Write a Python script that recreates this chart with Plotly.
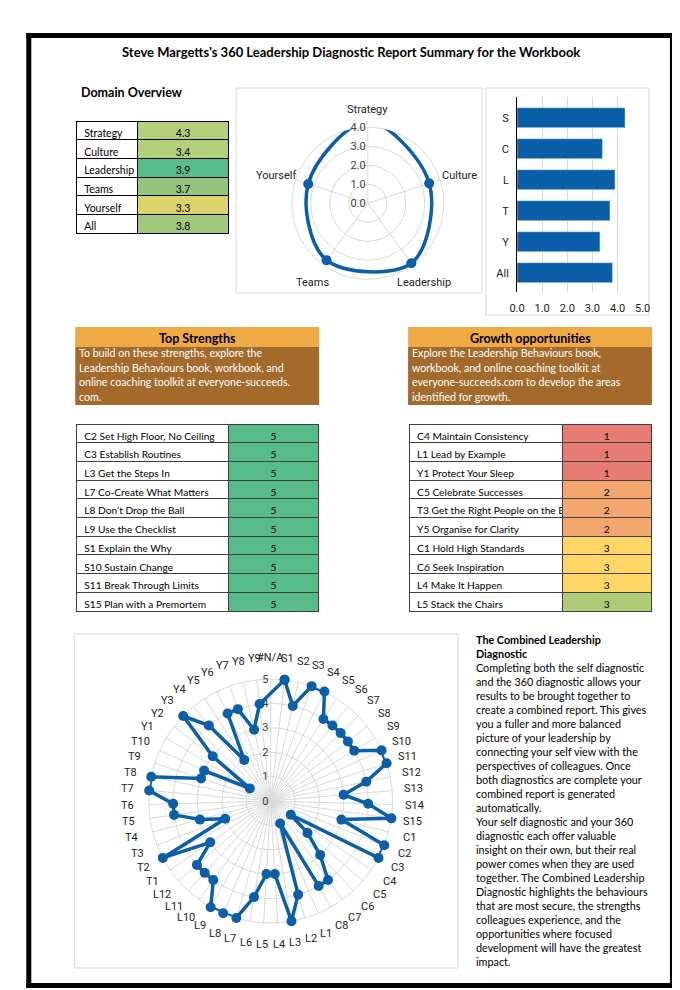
import math
import plotly.graph_objects as go

W, H = 680, 990
# the page is shown slightly squeezed horizontally; map reference pixels to figure pixels
OX, SX = 6.7, 0.977


def fx(x):
    return min(1.0, max(0.0, ((x - OX) / SX) / W))


def fy(y):
    return 1 - y / H


# ---------------- data ----------------
title_text = "Steve Margetts's 360 Leadership Diagnostic Report Summary for the Workbook"

domain_names = ["Strategy", "Culture", "Leadership", "Teams", "Yourself", "All"]
domain_values = [4.3, 3.4, 3.9, 3.7, 3.3, 3.8]
domain_colors = ["#b3cf79", "#b3cf79", "#57bb8a", "#93c57e", "#ddd36c", "#a1c87b"]

radar_names = ["Strategy", "Culture", "Leadership", "Teams", "Yourself"]
radar_values = [4.3, 3.4, 3.9, 3.7, 3.3]
radar_ticks = [0, 1, 2, 3, 4]
radar_ticktext = ["0.0", "1.0", "2.0", "3.0", "4.0"]

bar_labels = ["S", "C", "L", "T", "Y", "All"]
bar_values = [4.3, 3.4, 3.9, 3.7, 3.3, 3.8]
bar_ticks = [0, 1, 2, 3, 4, 5]
bar_ticktext = ["0.0", "1.0", "2.0", "3.0", "4.0", "5.0"]

strength_items = ["C2 Set High Floor, No Ceiling", "C3 Establish Routines", "L3 Get the Steps In",
                  "L7 Co-Create What Matters", "L8 Don\u2019t Drop the Ball", "L9 Use the Checklist",
                  "S1 Explain the Why", "S10 Sustain Change", "S11 Break Through Limits",
                  "S15 Plan with a Premortem"]
strength_scores = [5, 5, 5, 5, 5, 5, 5, 5, 5, 5]
strength_colors = ["#57bb8a"] * 10

growth_items = ["C4 Maintain Consistency", "L1 Lead by Example", "Y1 Protect Your Sleep",
                "C5 Celebrate Successes", "T3 Get the Right People on the Bus", "Y5 Organise for Clarity",
                "C1 Hold High Standards", "C6 Seek Inspiration", "L4 Make It Happen",
                "L5 Stack the Chairs"]
growth_scores = [1, 1, 1, 2, 2, 2, 3, 3, 3, 3]
growth_colors = ["#e67c73", "#e67c73", "#e67c73", "#f3a76f", "#f3a76f", "#f3a76f",
                 "#ffd666", "#ffd666", "#ffd666", "#aecb77"]

strength_note = ["To build on these strengths, explore the", "Leadership Behaviours book, workbook, and",
                 "online coaching toolkit at everyone-succeeds.", "com."]
growth_note = ["Explore the Leadership Behaviours book,", "workbook, and online coaching toolkit at",
               "everyone-succeeds.com to develop the areas", "identified for growth."]

behaviour_codes = ["#N/A",
                   "S1", "S2", "S3", "S4", "S5", "S6", "S7", "S8", "S9", "S10", "S11", "S12", "S13", "S14", "S15",
                   "C1", "C2", "C3", "C4", "C5", "C6", "C7", "C8",
                   "L1", "L2", "L3", "L4", "L5", "L6", "L7", "L8", "L9", "L10", "L11", "L12",
                   "T1", "T2", "T3", "T4", "T5", "T6", "T7", "T8", "T9", "T10",
                   "Y1", "Y2", "Y3", "Y4", "Y5", "Y6", "Y7", "Y8", "Y9"]
behaviour_scores = [None,
                    5, 4, 5, 5, 4, 4, 4, 4, 4, 5, 5, 4, 3, 4, 5,
                    3, 5, 5, 1, 2, 3, 4, 4,
                    1, 4, 5, 3, 3, 4, 5, 5, 5, 4, 4, 4,
                    3, 5, 2, 3, 4, 4, 5, 5, 3, 3,
                    1, 3, 5, 4, 2, 4, 4, 3, 4]
big_ticks = [0, 1, 2, 3, 4, 5]

combined_title = ["The Combined Leadership", "Diagnostic"]
combined_text = ["Completing both the self diagnostic", "and the 360 diagnostic allows your",
                 "results to be brought together to", "create a combined report. This gives",
                 "you a fuller and more balanced", "picture of your leadership by",
                 "connecting your self view with the", "perspectives of colleagues. Once",
                 "both diagnostics are complete your", "combined report is generated",
                 "automatically.", "Your self diagnostic and your 360", "diagnostic each offer valuable",
                 "insight on their own, but their real", "power comes when they are used",
                 "together. The Combined Leadership", "Diagnostic highlights the behaviours",
                 "that are most secure, the strengths", "colleagues experience, and the",
                 "opportunities where focused", "development will have the greatest", "impact."]

# ---------------- style ----------------
BLUE = "#0b5ea8"
GRID = "#d9d9d9"
CAL = "Lato"
CHART = "Roboto"
ORANGE = "#f0aa45"
BROWN = "#a36a2b"

SMALL_C, SMALL_R = (366.7, 203.3), 76
BIG_C, BIG_R = (269.5, 801), 122


def nb(s):
    return s.replace(" ", "\u00a0")


fig = go.Figure()

# small radar
fig.add_trace(go.Scatterpolar(
    r=radar_values + radar_values[:1], theta=radar_names + radar_names[:1],
    mode="lines+markers", subplot="polar", cliponaxis=False, hoverinfo="skip",
    line=dict(color=BLUE, width=3.5, shape="spline", smoothing=1.0),
    marker=dict(size=10, color=BLUE)))

# bar chart
fig.add_trace(go.Bar(x=bar_values, y=bar_labels, orientation="h", marker_color=BLUE,
                     width=0.645, xaxis="x", yaxis="y", hoverinfo="skip"))

# big radar
fig.add_trace(go.Scatterpolar(
    r=behaviour_scores + [behaviour_scores[1]], theta=behaviour_codes + [behaviour_codes[1]],
    mode="lines+markers", subplot="polar2", connectgaps=True, cliponaxis=False, hoverinfo="skip",
    line=dict(color=BLUE, width=3.5), marker=dict(size=10, color=BLUE)))

ROW = 18.7
dom_font = dict(family=CAL, size=10.5, color="#000")
cell_font = dict(family=CAL, size=10.2, color="#000")

# domain table
fig.add_trace(go.Table(
    domain=dict(x=[fx(75), fx(228)], y=[fy(250), fy(121)]),
    columnwidth=[62, 91],
    header=dict(values=[nb(domain_names[0]), "%.1f" % domain_values[0]],
                fill_color=["#ffffff", domain_colors[0]], line=dict(color="#000", width=1),
                align=["left", "center"], height=ROW, font=dom_font),
    cells=dict(values=[[nb(s) for s in domain_names[1:]], ["%.1f" % v for v in domain_values[1:]]],
               fill_color=[["#ffffff"] * 5, domain_colors[1:]], line=dict(color="#000", width=1),
               align=["left", "center"], height=ROW, font=dom_font)))

# strengths table
fig.add_trace(go.Table(
    domain=dict(x=[fx(75), fx(318)], y=[fy(630), fy(424)]),
    columnwidth=[153, 90],
    header=dict(values=[nb(strength_items[0]), str(strength_scores[0])],
                fill_color=["#ffffff", strength_colors[0]], line=dict(color="#404040", width=1),
                align=["left", "center"], height=ROW, font=cell_font),
    cells=dict(values=[[nb(s) for s in strength_items[1:]], [str(v) for v in strength_scores[1:]]],
               fill_color=[["#ffffff"] * 9, strength_colors[1:]], line=dict(color="#404040", width=1),
               align=["left", "center"], height=ROW, font=cell_font)))

# growth table
fig.add_trace(go.Table(
    domain=dict(x=[fx(408), fx(651)], y=[fy(630), fy(424)]),
    columnwidth=[154, 89],
    header=dict(values=[nb(growth_items[0]), str(growth_scores[0])],
                fill_color=["#ffffff", growth_colors[0]], line=dict(color="#404040", width=1),
                align=["left", "center"], height=ROW, font=cell_font),
    cells=dict(values=[[nb(s) for s in growth_items[1:]], [str(v) for v in growth_scores[1:]]],
               fill_color=[["#ffffff"] * 9, growth_colors[1:]], line=dict(color="#404040", width=1),
               align=["left", "center"], height=ROW, font=cell_font)))

shapes = []


def rect(x0, y0, x1, y1, fill=None, line=None, lw=1):
    shapes.append(dict(type="rect", xref="paper", yref="paper",
                       x0=fx(x0), x1=fx(x1), y0=fy(y1), y1=fy(y0),
                       fillcolor=fill if fill else "rgba(0,0,0,0)",
                       line=dict(color=line if line else "rgba(0,0,0,0)", width=lw if line else 0),
                       layer="below"))


# page frame
rect(25, 33, 690, 38, fill="#000")
rect(25, 33, 30, 988, fill="#000")
rect(25, 983, 690, 988, fill="#000")
rect(669, 33, 690, 988, fill="#000")
# chart boxes
rect(235, 88, 481, 293, line=GRID)
rect(485, 88, 648, 315, line=GRID)
rect(73, 634, 457, 968, line=GRID)
# note boxes
rect(74, 327, 318, 347, fill=ORANGE)
rect(74, 347, 318, 405, fill=BROWN)
rect(407, 327, 651, 347, fill=ORANGE)
rect(407, 347, 651, 405, fill=BROWN)

ann = []


def text(t, x, y, size, color="#000", xanchor="left", bold=False, family=CAL):
    ann.append(dict(text=("<b>%s</b>" % t) if bold else t, x=fx(x), y=fy(y), xref="paper", yref="paper",
                    showarrow=False, font=dict(family=family, size=size, color=color),
                    xanchor=xanchor, yanchor="middle", align="left"))


text(title_text, 350, 52, 13, xanchor="center", bold=True)
text("Domain Overview", 78, 92, 12.5, bold=True)
text("Top Strengths", 196, 338, 12.5, xanchor="center", bold=True)
text("Growth opportunities", 529, 338, 12.5, xanchor="center", bold=True)
for i, line in enumerate(strength_note):
    text(line, 76, 353 + i * 14.6, 10.6, color="#fff")
for i, line in enumerate(growth_note):
    text(line, 409, 353 + i * 14.6, 10.6, color="#fff")
for i, line in enumerate(combined_title + combined_text):
    text(line, 473, 639.3 + i * 14.02, 10.8, bold=(i < 2))

# category labels of the small radar, placed the way the spreadsheet chart places them
small_label_pos = [(366.7, 109), (458.5, 175), (422.8, 282.5), (311, 282.5), (275.8, 175)]
for name, (lx, ly) in zip(radar_names, small_label_pos):
    text(name, lx, ly, 11, color="#222", xanchor="center", family=CHART)

# category labels of the big radar: centred on a ring just outside the plot
n_codes = len(behaviour_codes)
for i, code in enumerate(behaviour_codes):
    a = math.radians(i * 360.0 / n_codes)
    text(code, BIG_C[0] + 143.5 * math.sin(a), BIG_C[1] - 143.5 * math.cos(a), 11,
         color="#222", xanchor="center", family=CHART)


def cx(c, r):
    return [fx(c - r), fx(c + r)]


fig.update_layout(
    width=W, height=H, margin=dict(l=0, r=0, t=0, b=0), autosize=False,
    paper_bgcolor="#fff", plot_bgcolor="#fff", showlegend=False,
    shapes=shapes, annotations=ann,
    polar=dict(
        domain=dict(x=cx(SMALL_C[0], SMALL_R), y=[fy(SMALL_C[1] + SMALL_R), fy(SMALL_C[1] - SMALL_R)]),
        bgcolor="rgba(0,0,0,0)",
        radialaxis=dict(range=[0, 4], tickvals=radar_ticks, ticktext=radar_ticktext, angle=90,
                        tickangle=90, side="counterclockwise", showline=False, gridcolor=GRID, ticks="",
                        tickfont=dict(family=CHART, size=11, color="#404040"), layer="below traces"),
        angularaxis=dict(rotation=90, direction="clockwise", gridcolor=GRID, linecolor=GRID,
                         showticklabels=False, ticks="",
                         categoryorder="array", categoryarray=radar_names, layer="below traces")),
    polar2=dict(
        domain=dict(x=cx(BIG_C[0], BIG_R), y=[fy(BIG_C[1] + BIG_R), fy(BIG_C[1] - BIG_R)]),
        bgcolor="rgba(0,0,0,0)",
        radialaxis=dict(range=[0, 5], tickvals=big_ticks, angle=90, tickangle=90, side="counterclockwise",
                        showline=False, gridcolor=GRID, ticks="",
                        tickfont=dict(family=CHART, size=11, color="#404040"), layer="below traces"),
        angularaxis=dict(rotation=90, direction="clockwise", gridcolor=GRID, linecolor=GRID,
                         showticklabels=False, ticks="",
                         categoryorder="array", categoryarray=behaviour_codes, layer="below traces")),
    xaxis=dict(domain=[fx(516), fx(641.7)], range=[0, 5], tickvals=bar_ticks, ticktext=bar_ticktext,
               showgrid=True, gridcolor=GRID, zeroline=False, anchor="y", ticks="outside", ticklen=6,
               tickcolor="rgba(0,0,0,0)", tickfont=dict(family=CHART, size=11, color="#222"), fixedrange=True),
    yaxis=dict(domain=[fy(291.7), fy(96.7)], range=[5.613, -0.677], categoryorder="array",
               categoryarray=bar_labels, showline=True, linecolor="#000", linewidth=1, showgrid=False,
               anchor="x", ticks="outside", ticklen=5, tickcolor="rgba(0,0,0,0)",
               tickfont=dict(family=CHART, size=11, color="#222"), fixedrange=True),
)

fig.write_html("out.html",
               config={"responsive": False, "displayModeBar": False, "staticPlot": True},
               post_script="document.documentElement.style.overflow='hidden';"
                           "document.body.style.margin='0';document.body.style.overflow='hidden';")
